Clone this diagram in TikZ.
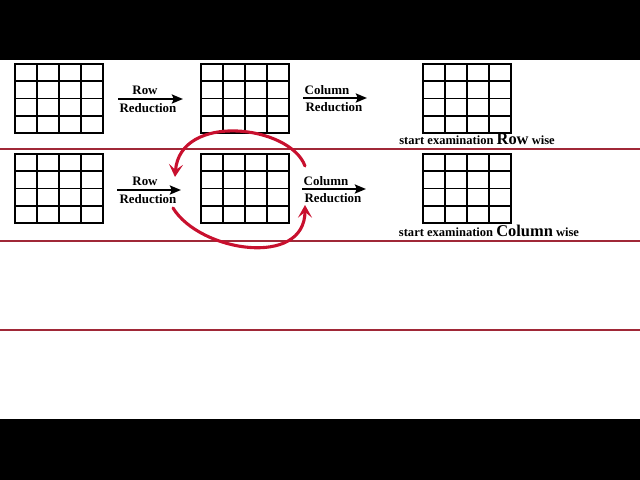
\documentclass[tikz,border=0pt]{standalone}
\usepackage{fontspec}
\setmainfont{Liberation Serif}
\usepackage{color}
\usetikzlibrary{arrows.meta}

\definecolor{rulered}{RGB}{160,40,55}
\definecolor{penred}{RGB}{200,16,46}

% 4x4 matrix grid, #1,#2 = top left corner
\newcommand{\matgrid}[2]{%
  \draw [line width=1.3pt] (#1,#2) rectangle (#1+88,#2+69);
  \foreach \i in {1,2,3} {
    \draw [line width=1.3pt] (#1+\i*22,#2) -- (#1+\i*22,#2+69);
    \draw [line width=1.3pt] (#1,#2+\i*17.25) -- (#1+88,#2+\i*17.25);
  }}

\begin{document}
\begin{tikzpicture}[%
      x=0.025cm, y=-0.025cm,
      lbl/.style={font=\fontsize{9.2}{10}\selectfont\bfseries, inner sep=0pt},
      captxt/.style={font=\fontsize{8.9}{10}\selectfont\bfseries, inner sep=0pt, anchor=base},
      ]
      \useasboundingbox (0,0) rectangle (640,480);
      \fill [black] (0,0) rectangle (640,60);
      \fill [black] (0,419) rectangle (640,480);

      \draw [color=rulered, line width=0.9pt] (0,149) -- (640,149);
      \draw [color=rulered, line width=0.9pt] (0,241) -- (640,241);
      \draw [color=rulered, line width=0.9pt] (0,330) -- (640,330);

      \matgrid{15}{64}
      \matgrid{201}{64}
      \matgrid{423}{64}
      \matgrid{15}{154}
      \matgrid{201}{154}
      \matgrid{423}{154}

      \coordinate (ra1) at (118,99);
      \coordinate (rb1) at (183,99);
      \coordinate (ca1) at (303,98);
      \coordinate (cb1) at (367,98);
      \coordinate (ra2) at (117,190);
      \coordinate (rb2) at (181,190);
      \coordinate (ca2) at (302,189);
      \coordinate (cb2) at (366,189);

      \draw [line width=1.4pt, -{Stealth[length=8pt,width=6.5pt,inset=1.5pt]}] (ra1) -- (rb1);
      \draw [line width=1.4pt, -{Stealth[length=8pt,width=6.5pt,inset=1.5pt]}] (ca1) -- (cb1);
      \draw [line width=1.4pt, -{Stealth[length=8pt,width=6.5pt,inset=1.5pt]}] (ra2) -- (rb2);
      \draw [line width=1.4pt, -{Stealth[length=8pt,width=6.5pt,inset=1.5pt]}] (ca2) -- (cb2);

      \node [lbl] (row1) at (145,90) {Row};
      \node [lbl] (red1) at (148,108) {Reduction};
      \node [lbl] (col1) at (327,90) {Column};
      \node [lbl] (red2) at (334,107) {Reduction};
      \node [lbl] (row2) at (145,181) {Row};
      \node [lbl] (red3) at (148,199) {Reduction};
      \node [lbl] (col2) at (326,181) {Column};
      \node [lbl] (red4) at (333,198) {Reduction};

      \node [captxt] (cap1) at (477,144) {start examination {\fontsize{11.7}{12}\selectfont Row} wise};
      \node [captxt] (cap2) at (489,236) {start examination {\fontsize{11.7}{12}\selectfont Column} wise};

      \coordinate (loopa) at (305,166);
      \coordinate (loopb) at (175,177);
      \coordinate (loopc) at (173,208);
      \coordinate (loopd) at (305,205);

      \draw [color=penred, line width=2.2pt, line cap=round, -{Stealth[length=9pt,width=10pt,inset=4pt]}] (loopa) .. controls (290,125) and (180,112) .. (loopb);
      \draw [color=penred, line width=2.2pt, line cap=round, -{Stealth[length=9pt,width=10pt,inset=4pt]}] (loopc) .. controls (200,252) and (305,268) .. (loopd);
\end{tikzpicture}
\end{document}
